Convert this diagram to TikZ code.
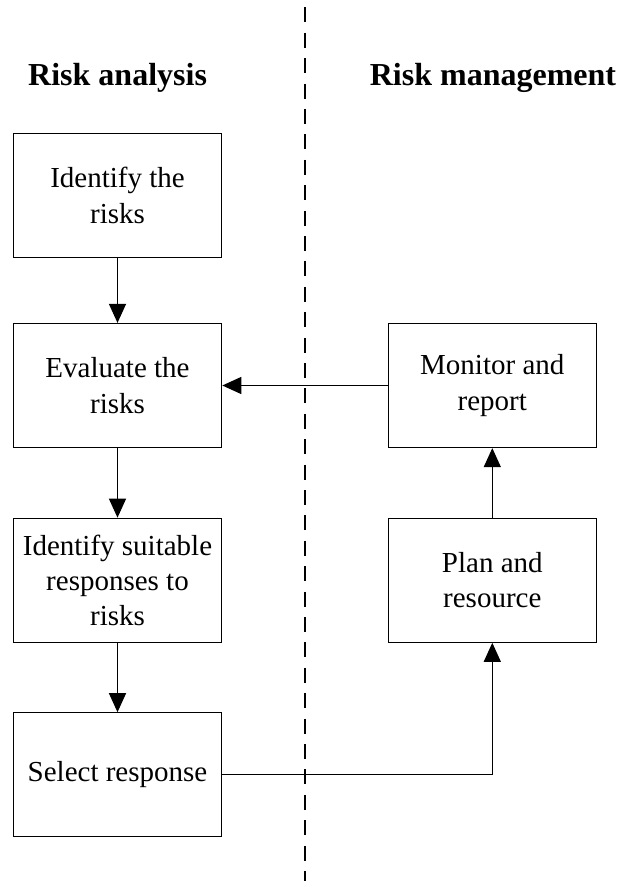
\documentclass[tikz,border=0pt]{standalone}
\usepackage{fontspec}
\setmainfont{Liberation Serif}
\usetikzlibrary{arrows.meta}
\begin{document}
\begin{tikzpicture}[x=1pt,y=-1pt,
  stepbox/.style={draw, line width=1.2pt, minimum width=208.4pt, minimum height=124pt, inner sep=0pt, align=center, font=\fontsize{29}{35.3}\selectfont},
  title/.style={anchor=base, font=\fontsize{32}{38}\selectfont\bfseries},
  conn/.style={line width=1.2pt, -{Triangle[length=19pt,width=17pt]}},
  divider/.style={line width=1.2pt, dash pattern=on 15pt off 10.4pt}]
\useasboundingbox (0,0) rectangle (619,881);
\coordinate (dtop) at (305,7.3);
\coordinate (dbot) at (305,881);
\draw[divider] (dtop) -- (dbot);
\node[title] (tl) at (117.6,85) {Risk analysis};
\node[title] (tr) at (493,85) {Risk management};
\node[stepbox] (a1) at (117.5,195.3) {Identify the\\risks};
\node[stepbox] (a2) at (117.5,385.5) {Evaluate the\\risks};
\node[stepbox] (a3) at (117.5,580.3) {Identify suitable\\responses to\\risks};
\node[stepbox] (a4) at (117.5,774.8) {Select response};
\node[stepbox] (m1) at (492.3,385.5) {Monitor and\\report};
\node[stepbox] (m2) at (492.3,580.2) {Plan and\\resource};
\draw[conn] (a1) -- (a2);
\draw[conn] (a2) -- (a3);
\draw[conn] (a3) -- (a4);
\draw[conn] (m1) -- (a2);
\draw[conn] (m2) -- (m1);
\draw[conn] (a4.east) -| (m2.south);
\end{tikzpicture}
\end{document}
